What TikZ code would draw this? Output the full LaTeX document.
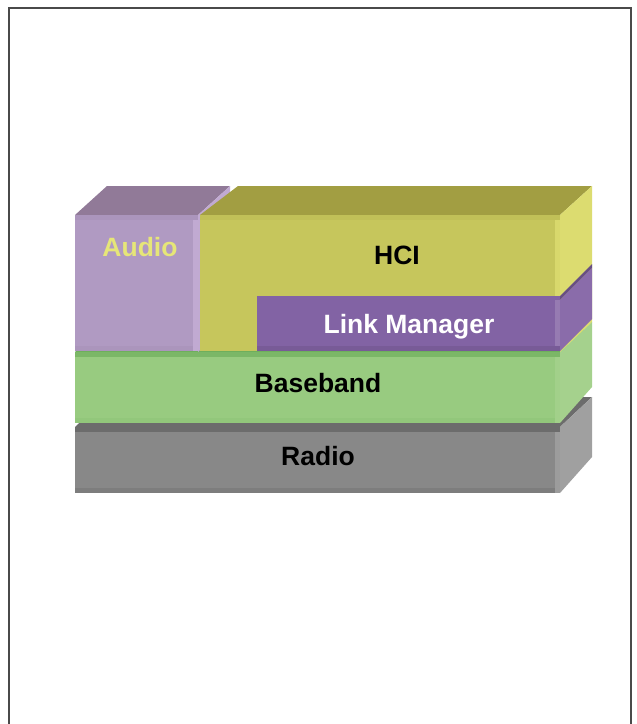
\documentclass[tikz,border=0pt]{standalone}
\usepackage{fontspec}
\setmainfont{Liberation Sans}
\definecolor{FrameGray}{HTML}{4A4A4A}
\definecolor{AudioFront}{HTML}{B09AC2}
\definecolor{AudioTop}{HTML}{917A98}
\definecolor{AudioSide}{HTML}{C1AAD2}
\definecolor{AudioText}{HTML}{E6E678}
\definecolor{HciFront}{HTML}{C6C65C}
\definecolor{HciTop}{HTML}{A29E42}
\definecolor{HciSide}{HTML}{DCDC70}
\definecolor{LinkFront}{HTML}{8263A4}
\definecolor{LinkSide}{HTML}{8A6CAA}
\definecolor{BaseFront}{HTML}{98CB80}
\definecolor{BaseTop}{HTML}{6EAF5C}
\definecolor{BaseSide}{HTML}{A5D18D}
\definecolor{RadioFront}{HTML}{888888}
\definecolor{RadioTop}{HTML}{6C6C6C}
\definecolor{RadioSide}{HTML}{A0A0A0}
\begin{document}
\begin{tikzpicture}[x=1pt,y=-1pt,
  layerlabel/.style={font=\fontsize{26.5}{27}\selectfont\bfseries,inner sep=0pt,anchor=base}]
\useasboundingbox (0,0) rectangle (637,724);
\fill[white] (0,0) rectangle (637,724);
\draw[FrameGray,line width=1.2pt] (9,724) -- (9,8) -- (631,8) -- (631,724);

\fill[RadioTop] (75,427) -- (107,397) -- (592,397) -- (560,427) -- cycle;
\fill[RadioSide] (560,427) -- (592,397) -- (592,457) -- (560,493) -- cycle;
\fill[RadioFront] (75,427) rectangle (560,493);
\fill[RadioTop] (75,427) rectangle (560,432);
\fill[RadioFront!92!black] (75,488) rectangle (560,493);
\fill[RadioSide!85!RadioFront] (555,432) rectangle (560,493);

\fill[BaseTop] (75,352) -- (107,322) -- (592,322) -- (560,352) -- cycle;
\fill[BaseSide] (560,352) -- (592,322) -- (592,387) -- (560,423) -- cycle;
\fill[BaseFront] (75,352) rectangle (560,423);
\fill[BaseTop!70!BaseFront] (75,352) rectangle (560,357);
\fill[BaseFront!85!BaseTop] (75,418) rectangle (560,423);
\fill[BaseSide!80!BaseFront] (555,357) rectangle (560,423);

\fill[AudioTop] (75,215) -- (107,186) -- (230,186) -- (198,215) -- cycle;
\fill[AudioSide] (198,215) -- (230,186) -- (230,322) -- (198,352) -- cycle;
\fill[AudioFront] (75,215) rectangle (198,351);
\fill[AudioFront!85!AudioTop] (75,215) rectangle (198,220);
\fill[AudioFront!85!AudioTop] (75,346) rectangle (198,351);
\fill[AudioSide] (193,220) rectangle (198,351);

\fill[HciTop] (200,215) -- (238,186) -- (592,186) -- (560,215) -- cycle;
\fill[HciSide] (560,215) -- (592,186) -- (592,322) -- (560,352) -- cycle;
\fill[HciFront] (200,215) rectangle (560,351);
\fill[HciFront!85!HciTop] (200,215) rectangle (560,220);
\fill[HciSide!80!HciFront] (555,220) rectangle (560,296);

\fill[LinkFront!80!black] (560,296) -- (592,264) -- (592,268) -- (560,300) -- cycle;
\fill[LinkSide] (560,300) -- (592,268) -- (592,319) -- (560,351) -- cycle;
\fill[LinkFront] (257,296) rectangle (560,351);
\fill[LinkFront!92!black] (257,346) rectangle (560,351);
\fill[LinkSide!90!white] (555,300) rectangle (560,346);

\node[layerlabel,text=AudioText] (audio) at (140,256) {Audio};
\node[layerlabel] (hci) at (397,264.5) {HCI};
\node[layerlabel,text=white] (linkmgr) at (409,333) {Link Manager};
\node[layerlabel] (baseband) at (318,392) {Baseband};
\node[layerlabel] (radio) at (318,465.7) {Radio};
\end{tikzpicture}
\end{document}
